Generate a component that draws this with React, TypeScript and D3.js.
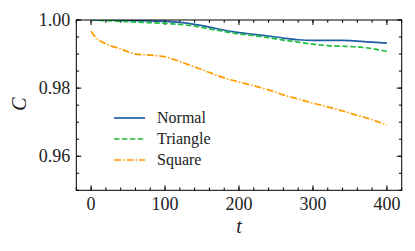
import React from "react";
import * as d3 from "d3";

const tNormal = [0, 20, 40, 60, 80, 100, 120, 140, 160, 180, 200, 220, 240, 260, 280, 300, 320, 340, 360, 380, 400];
const normal = [1.0, 1.0, 0.9999, 0.9998, 0.9997, 0.9996, 0.9993, 0.9987, 0.9979, 0.997, 0.9963, 0.9958, 0.9953, 0.9947, 0.9942, 0.994, 0.994, 0.994, 0.9938, 0.9935, 0.9932];
const triangle = [1.0, 0.9998, 0.9996, 0.9994, 0.9992, 0.999, 0.9987, 0.9982, 0.9974, 0.9966, 0.9959, 0.9954, 0.9948, 0.9941, 0.9935, 0.9929, 0.9925, 0.9923, 0.9921, 0.9916, 0.9908];
const tSquare = [0, 5, 10, 20, 40, 60, 80, 100, 120, 140, 160, 180, 200, 220, 240, 260, 280, 300, 320, 340, 360, 380, 400];
const square = [0.9967, 0.9952, 0.9942, 0.993, 0.9915, 0.99, 0.9897, 0.9892, 0.9878, 0.9862, 0.9846, 0.983, 0.9818, 0.9807, 0.9795, 0.978, 0.9768, 0.9756, 0.9745, 0.9733, 0.972, 0.9707, 0.9691];

const xTicks = [0, 100, 200, 300, 400];
const yTicks = [0.96, 0.98, 1.0];

const series = [
  { name: "Normal", t: tNormal, v: normal, color: "#1f5fa8", dash: undefined },
  { name: "Triangle", t: tNormal, v: triangle, color: "#1fbf3f", dash: "5.5,2.4" },
  { name: "Square", t: tSquare, v: square, color: "#ff9d00", dash: "7,2,1.5,2" },
];

const W = 415;
const H = 251;
const m = { left: 76.3, right: 401.7, top: 20, bottom: 190.3 };
const FONT = "Liberation Serif";

const x = d3.scaleLinear().domain([-20, 420]).range([m.left, m.right]);
const y = d3.scaleLinear().domain([0.95, 1.0]).range([m.bottom, m.top]);
const xMinor = d3.range(-20, 421, 20);
const yMinor = d3.range(0, 11).map((i) => 0.95 + i * 0.005);
const fmtY = d3.format(".2f");

export default function App() {
  const txt = { fontFamily: FONT, fill: "#222" } as React.CSSProperties;
  return (
    <svg width={W} height={H} style={{ position: "absolute", left: 0, top: 0, background: "#fff", fontFamily: FONT }}>
      <defs>
        <clipPath id="clip">
          <rect x={m.left} y={m.top} width={m.right - m.left} height={m.bottom - m.top} />
        </clipPath>
      </defs>

      {/* minor ticks */}
      <g stroke="#000" strokeWidth={1}>
        {xMinor.map((d) => (
          <g key={"xm" + d}>
            <line x1={x(d)} x2={x(d)} y1={m.bottom} y2={m.bottom - 2.8} />
            <line x1={x(d)} x2={x(d)} y1={m.top} y2={m.top + 2.8} />
          </g>
        ))}
        {yMinor.map((d) => (
          <g key={"ym" + d}>
            <line x1={m.left} x2={m.left + 2.8} y1={y(d)} y2={y(d)} />
            <line x1={m.right} x2={m.right - 2.8} y1={y(d)} y2={y(d)} />
          </g>
        ))}
        {xTicks.map((d) => (
          <g key={"xM" + d}>
            <line x1={x(d)} x2={x(d)} y1={m.bottom} y2={m.bottom - 5} />
            <line x1={x(d)} x2={x(d)} y1={m.top} y2={m.top + 5} />
          </g>
        ))}
        {yTicks.map((d) => (
          <g key={"yM" + d}>
            <line x1={m.left} x2={m.left + 5} y1={y(d)} y2={y(d)} />
            <line x1={m.right} x2={m.right - 5} y1={y(d)} y2={y(d)} />
          </g>
        ))}
      </g>

      {/* tick labels */}
      {xTicks.map((d) => (
        <text key={"xl" + d} x={x(d)} y={m.bottom + 20} textAnchor="middle" fontSize={18} style={txt}>
          {d}
        </text>
      ))}
      {yTicks.map((d) => (
        <text key={"yl" + d} x={m.left - 6} y={y(d) + 6} textAnchor="end" fontSize={18} style={txt}>
          {fmtY(d)}
        </text>
      ))}

      {/* lines */}
      <g clipPath="url(#clip)">
        {series.map((s) => {
          const line = d3
            .line<number>()
            .x((_, i) => x(s.t[i]))
            .y((d) => y(d))
            .curve(d3.curveMonotoneX);
          return (
            <path key={s.name} d={line(s.v) || ""} fill="none" stroke={s.color} strokeWidth={1.7} strokeDasharray={s.dash} />
          );
        })}
      </g>

      {/* frame */}
      <rect x={m.left} y={m.top} width={m.right - m.left} height={m.bottom - m.top} fill="none" stroke="#000" strokeWidth={1} />

      {/* legend */}
      {series.map((s, i) => {
        const ly = 118 + i * 21;
        return (
          <g key={"lg" + s.name}>
            <line x1={114} x2={145} y1={ly} y2={ly} stroke={s.color} strokeWidth={1.7} strokeDasharray={s.dash} />
            <text x={157} y={ly + 5} fontSize={16} style={txt}>
              {s.name}
            </text>
          </g>
        );
      })}

      {/* axis labels */}
      <text x={239} y={233} textAnchor="middle" fontSize={20} fontStyle="italic" style={txt}>
        t
      </text>
      <text transform="translate(26,104) rotate(-90)" textAnchor="middle" fontSize={20} fontStyle="italic" style={txt}>
        C
      </text>
    </svg>
  );
}
